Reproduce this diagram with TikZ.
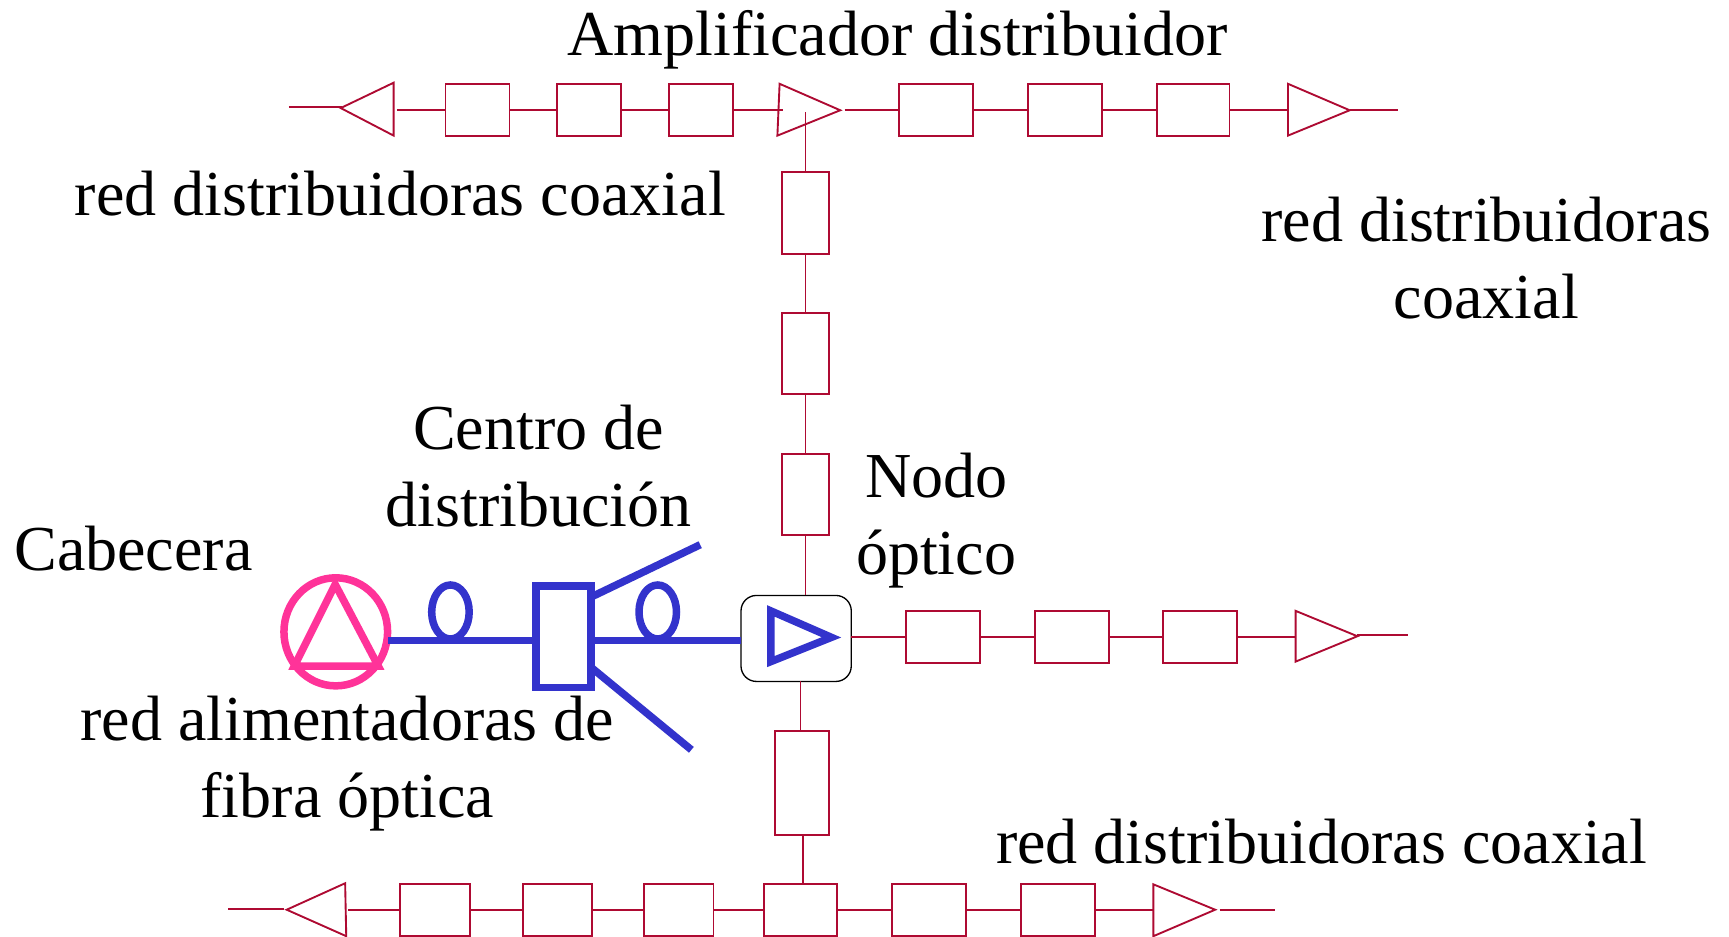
\documentclass[tikz,border=0pt]{standalone}
\usepackage{fontspec}
\usetikzlibrary{shapes.geometric}
\setmainfont{Liberation Serif}
\definecolor{coax}{HTML}{AE0A32}
\definecolor{fibre}{HTML}{3333CC}
\definecolor{headend}{HTML}{FF3399}
\tikzset{
  x=0.5pt,y=-0.5pt,
  coaxline/.style={draw=coax,line width=0.85pt},
  box/.style={coaxline,fill=white,rectangle,inner sep=0pt,outer sep=0pt},
  fibreline/.style={draw=fibre,line width=3.4pt},
  txt/.style={font=\fontsize{29.05}{35}\selectfont,align=center,inner sep=0pt,text=black}
}
\newcommand{\bx}[5]{\node[box,minimum width={(#3-#2)*0.5pt},minimum height={(#5-#4)*0.5pt}] (#1) at ({(#2+#3)/2},{(#4+#5)/2}) {};}
% triangle: base corners a, b and tip t
\newcommand{\tri}[4]{\coordinate (#1a) at (#2);\coordinate (#1b) at (#3);\coordinate (#1t) at (#4);\draw[coaxline] (#1a) -- (#1t) -- (#1b) -- cycle;}
\begin{document}
\begin{tikzpicture}
\useasboundingbox[fill=white] (0,0) rectangle (1568,849);
% top row
\coordinate (tl0) at (262,97);\coordinate (tl1) at (310,97);
\coordinate (tl2) at (360,99.5);
\bx{t1}{404}{462}{76}{123}
\bx{t2}{505}{563}{76}{123}
\bx{t3}{607}{665}{76}{123}
\bx{t4}{815}{882}{76}{123}
\bx{t5}{932}{999}{76}{123}
\bx{t6}{1049}{1115}{76}{123}
\coordinate (tl3) at (710,99.5);\coordinate (tl4) at (766,99.5);
\coordinate (tl5) at (1168,99.5);\coordinate (tl6) at (1224,100);\coordinate (tl7) at (1268,100);
\tri{ta}{357,75}{357,123}{309,98}
\tri{tb}{707,76}{705,123}{762,100}
\tri{tc}{1168,76}{1168,123}{1224,100}
\draw[coaxline] (tl0) -- (tl1);
\draw[coaxline] (tl2) -- (t1.west);
\draw[coaxline] (t1.east) -- (t2.west);
\draw[coaxline] (t2.east) -- (t3.west);
\draw[coaxline] (t3.east) -- (tl3);
\draw[coaxline] (tl4) -- (t4.west);
\draw[coaxline] (t4.east) -- (t5.west);
\draw[coaxline] (t5.east) -- (t6.west);
\draw[coaxline] (t6.east) -- (tl5);
\draw[coaxline] (tl6) -- (tl7);
% vertical up
\coordinate (vtop) at (730.5,102);
\bx{v1}{709}{752}{156}{230}
\bx{v2}{709}{752}{284}{357}
\bx{v3}{709}{752}{412}{485}
\node[draw=black,line width=0.6pt,rounded corners=7pt,fill=white,minimum width=50pt,minimum height=39pt,inner sep=0pt,outer sep=0pt] (nodo) at (722,579) {};
\coordinate (ntop) at (730.5,540);
\draw[coaxline] (vtop) -- (v1.north);
\draw[coaxline] (v1.south) -- (v2.north);
\draw[coaxline] (v2.south) -- (v3.north);
\draw[coaxline] (v3.south) -- (ntop);
% middle row
\coordinate (ne) at (772,577.5);
\bx{m1}{822}{889}{554}{601}
\bx{m2}{939}{1006}{554}{601}
\bx{m3}{1055}{1122}{554}{601}
\tri{mt}{1175,554}{1175,600}{1231,577}
\coordinate (me0) at (1231,576);\coordinate (me1) at (1277,576);
\draw[coaxline] (ne) -- (m1.west);
\draw[coaxline] (m1.east) -- (m2.west);
\draw[coaxline] (m2.east) -- (m3.west);
\draw[coaxline] (m3.east) -- (mtb |- m3.east);
\draw[coaxline] (me0) -- (me1);
% vertical down
\coordinate (ns) at (726,618);
\bx{d1}{703}{752}{663}{757}
\coordinate (dn) at (726,663);
\coordinate (dn0) at (728,757);\coordinate (dn1) at (728,803);
\draw[coaxline] (ns) -- (dn);
% bottom row
\coordinate (bl0) at (207,824);\coordinate (bl1) at (258,824);
\coordinate (bl2) at (316,825.5);
\bx{b1}{363}{426}{802}{849}
\bx{b2}{474}{537}{802}{849}
\bx{b3}{584}{647}{802}{849}
\bx{b4}{693}{759}{802}{849}
\bx{b5}{809}{876}{802}{849}
\bx{b6}{926}{993}{802}{849}
\tri{ba}{313,801}{314,849}{260,825}
\tri{bb}{1046,802}{1046,849}{1102,825}
\coordinate (bl3) at (1046,825.5);\coordinate (bl4) at (1106,825);\coordinate (bl5) at (1156,825);
\draw[coaxline] (bl0) -- (bl1);
\draw[coaxline] (bl2) -- (b1.west);
\draw[coaxline] (b1.east) -- (b2.west);
\draw[coaxline] (b2.east) -- (b3.west);
\draw[coaxline] (b3.east) -- (b4.west);
\draw[coaxline] (b4.east) -- (b5.west);
\draw[coaxline] (b5.east) -- (b6.west);
\draw[coaxline] (b6.east) -- (bl3);
\draw[coaxline] (bl4) -- (bl5);
\draw[coaxline] (dn0) -- (dn1);
% head end
\node[draw=headend,line width=3.4pt,ellipse,minimum width=47pt,minimum height=49pt,inner sep=0pt,outer sep=0pt] (cab) at (304.5,573) {};
\coordinate (p1) at (304,530);\coordinate (p2) at (267,604);\coordinate (p3) at (343,604);
\draw[draw=headend,line width=3.4pt] (p1) -- (p2) -- (p3) -- cycle;
% fibre
\node[draw=fibre,line width=3.4pt,rectangle,minimum width=25pt,minimum height=46pt,inner sep=0pt,outer sep=0pt] (cd) at (511,577.5) {};
\coordinate (f0) at (352,581);\coordinate (f1) at (484,581);\coordinate (f2) at (538,581);\coordinate (f3) at (672,581);
\draw[fibreline] (f0) -- (f1);
\draw[fibreline] (f2) -- (f3);
\node[draw=fibre,line width=3.4pt,ellipse,minimum width=17pt,minimum height=24.5pt,inner sep=0pt] (l1) at (408.5,555) {};
\node[draw=fibre,line width=3.4pt,ellipse,minimum width=17pt,minimum height=24.5pt,inner sep=0pt] (l2) at (596.5,555) {};
\coordinate (u0) at (537,541);\coordinate (u1) at (635,494);
\coordinate (w0) at (537,606);\coordinate (w1) at (627,680);
\draw[fibreline] (u0) -- (u1);
\draw[fibreline] (w0) -- (w1);
\coordinate (q1) at (699,554);\coordinate (q2) at (699,600);\coordinate (q3) at (754,578);
\draw[fibreline] (q1) -- (q3) -- (q2) -- cycle;
% labels
\node[txt,anchor=base] (a1) at (814,50) {Amplificador distribuidor};
\node[txt,anchor=base] (a2) at (363,195) {red distribuidoras coaxial};
\node[txt] (a3) at (1348,234) {red distribuidoras\\coaxial};
\node[txt] (a4) at (488.5,423) {Centro de\\distribución};
\node[txt] (a5) at (849,472) {Nodo\\óptico};
\node[txt,anchor=base] (a6) at (121,517) {Cabecera};
\node[txt] (a7) at (315,692.5) {red alimentadoras de\\fibra óptica};
\node[txt,anchor=base] (a8) at (1198.5,783) {red distribuidoras coaxial};
\end{tikzpicture}
\end{document}
